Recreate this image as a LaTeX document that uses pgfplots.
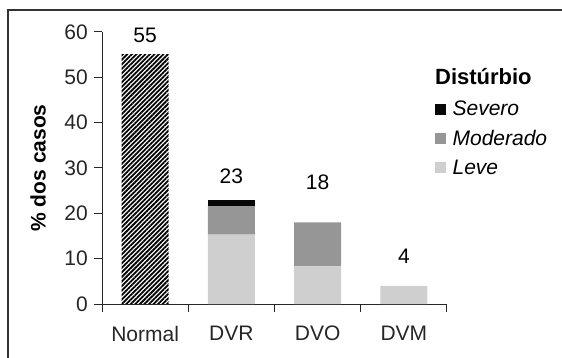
\documentclass[border=0pt]{standalone}
\usepackage{fontspec}
\setmainfont{Liberation Sans}
\usepackage{pgfplots}
\pgfplotsset{compat=1.18}
\usetikzlibrary{patterns.meta}

\definecolor{leve}{gray}{0.81}
\definecolor{moderado}{gray}{0.59}
\definecolor{severo}{gray}{0.03}
\newcommand{\fs}[1]{\fontsize{#1}{#1}\selectfont}

\begin{document}
\begin{tikzpicture}
\useasboundingbox (0,0) rectangle (562bp,358bp);
% outer frame of the figure
\draw[line width=1.2bp, black!80] (8bp,-2bp) -- (8bp,348bp) -- (564bp,348bp);
\begin{axis}[
  at={(102bp,54bp)}, anchor=south west,
  scale only axis, width=345bp, height=272bp,
  clip=false,
  ybar stacked, bar width=47bp,
  xmin=-0.5, xmax=3.5, ymin=0, ymax=60,
  axis x line*=bottom, axis y line*=left,
  axis line style={black!85, line width=1bp, -},
  xtick={0,1,2,3}, xticklabels={Normal,DVR,DVO,DVM},
  minor xtick={-0.5,0.5,1.5,2.5,3.5},
  ytick={0,10,...,60},
  tick align=outside,
  major tick length=8bp, minor tick length=8bp,
  major x tick style={draw=none},
  tick style={black!85, line width=1bp},
  /pgf/number format/assume math mode=true,
  ticklabel style={font=\fs{21bp}, text=black!85},
  yticklabel style={inner sep=0pt, xshift=-6bp},
  xticklabel style={inner sep=0pt, yshift=-14bp},
  ylabel={\textbf{\% dos casos}},
  every axis y label/.style={at={(axis description cs:-0.1855,0.5)}, rotate=90, anchor=center, font=\fs{21bp}},
  legend image code/.code={\fill[#1] (0bp,-5.5bp) rectangle (11bp,5.5bp);},
  reverse legend,
  legend cell align=left,
  legend style={at={(axis description cs:0.965,0.752)}, anchor=north west,
    draw=none, fill=none, inner sep=0pt, row sep=10bp,
    font=\fs{21bp}\itshape,
    nodes={inner sep=1.5bp},
    /tikz/every odd column/.append style={column sep=5bp}},
]
\addplot[fill=white, draw=none, forget plot,
  postaction={pattern={Lines[angle=45,distance=3.2bp,line width=1.8bp]}, pattern color=black}]
  coordinates {(0,55) (1,0) (2,0) (3,0)};
\addplot[fill=leve, draw=none] coordinates {(0,0) (1,15.3) (2,8.3) (3,4)};
\addlegendentry{Leve}
\addplot[fill=moderado, draw=none] coordinates {(0,0) (1,6.3) (2,9.7) (3,0)};
\addlegendentry{Moderado}
\addplot[fill=severo, draw=none] coordinates {(0,0) (1,1.4) (2,0) (3,0)};
\addlegendentry{Severo}

\node[font=\fs{21bp}] at (axis cs:0,59.3) {55};
\node[font=\fs{21bp}] at (axis cs:1,28.1) {23};
\node[font=\fs{21bp}] at (axis cs:2,26.8) {18};
\node[font=\fs{21bp}] at (axis cs:3,10.5) {4};
\node[anchor=west, inner sep=0pt, font=\fs{22bp}\bfseries] at (axis description cs:0.965,0.838) {Distúrbio};
\end{axis}
\end{tikzpicture}
\end{document}
